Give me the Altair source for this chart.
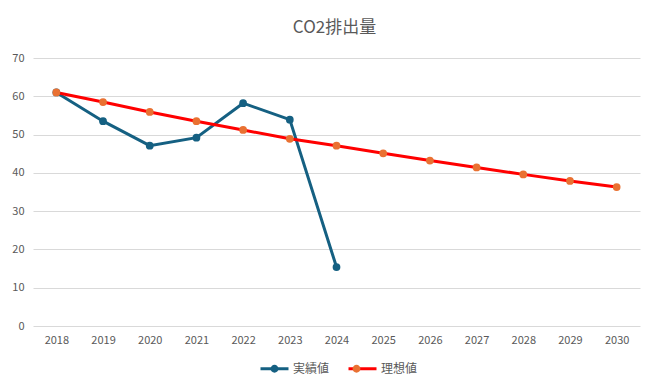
import altair as alt
import pandas as pd

years = [str(y) for y in range(2018, 2031)]
series_names = ["実績値", "理想値"]
actual = [61.0, 53.5, 47.1, 49.2, 58.2, 53.9, 15.4]
ideal = [61.0, 58.5, 55.9, 53.5, 51.2, 48.9, 47.1, 45.1, 43.2, 41.4, 39.6, 37.9, 36.3]

line_colors = ["#156082", "#FF0000"]
point_colors = ["#156082", "#E97132"]

rows = []
for y, v in zip(years, actual):
    rows.append({"year": y, "value": v, "series": series_names[0], "series_pt": series_names[0]})
for y, v in zip(years, ideal):
    rows.append({"year": y, "value": v, "series": series_names[1], "series_pt": series_names[1]})
df = pd.DataFrame(rows)

FONT = "Noto Sans CJK JP"
GRAY = "#595959"

base = alt.Chart(df).encode(
    x=alt.X("year:O", sort=years,
            scale=alt.Scale(type="point", padding=0.5),
            axis=alt.Axis(title=None, labelAngle=0, ticks=False, domain=False, grid=False,
                          labelPadding=8, labelFontSize=11, labelColor=GRAY, labelFont=FONT)),
    y=alt.Y("value:Q",
            scale=alt.Scale(domain=[0, 70], nice=False),
            axis=alt.Axis(title=None, values=list(range(0, 71, 10)), ticks=False, domain=False,
                          grid=True, gridColor="#D9D9D9", gridWidth=1,
                          labelPadding=9, labelFontSize=11, labelColor=GRAY, labelFont=FONT)),
)

leg_common = dict(title=None, orient="none", direction="horizontal", legendX=226, legendY=295,
                  symbolSize=784, symbolStrokeWidth=3, labelFontSize=12, labelFont=FONT,
                  labelColor=GRAY, labelOffset=3)

lines = base.mark_line(strokeWidth=3).encode(
    stroke=alt.Stroke("series:N",
                      scale=alt.Scale(range=line_colors),
                      legend=alt.Legend(symbolType="M-1,0 L1,0", columnPadding=12, **leg_common)),
    detail="series:N",
)

points = base.mark_circle(size=60, opacity=1).encode(
    fill=alt.Fill("series_pt:N",
                  scale=alt.Scale(range=point_colors),
                  legend=alt.Legend(symbolType="M-1,0 M1,0 M-0.28,0 A0.28,0.28 0 1,0 0.28,0 A0.28,0.28 0 1,0 -0.28,0 Z",
                                    labelExpr="''", columnPadding=48, **leg_common)),
)

chart = alt.layer(lines, points).properties(
    width=607, height=268,
    background="white",
    title=alt.TitleParams("CO2排出量", font=FONT, fontSize=17, fontWeight="normal",
                          color=GRAY, offset=15, dx=-2),
    autosize=alt.AutoSizeParams(type="none"),
    padding={"left": 25, "top": 50, "right": 9, "bottom": 55},
).configure_view(stroke="transparent", strokeWidth=0)

chart.save("out.html", embed_options={"renderer": "svg", "actions": False})
